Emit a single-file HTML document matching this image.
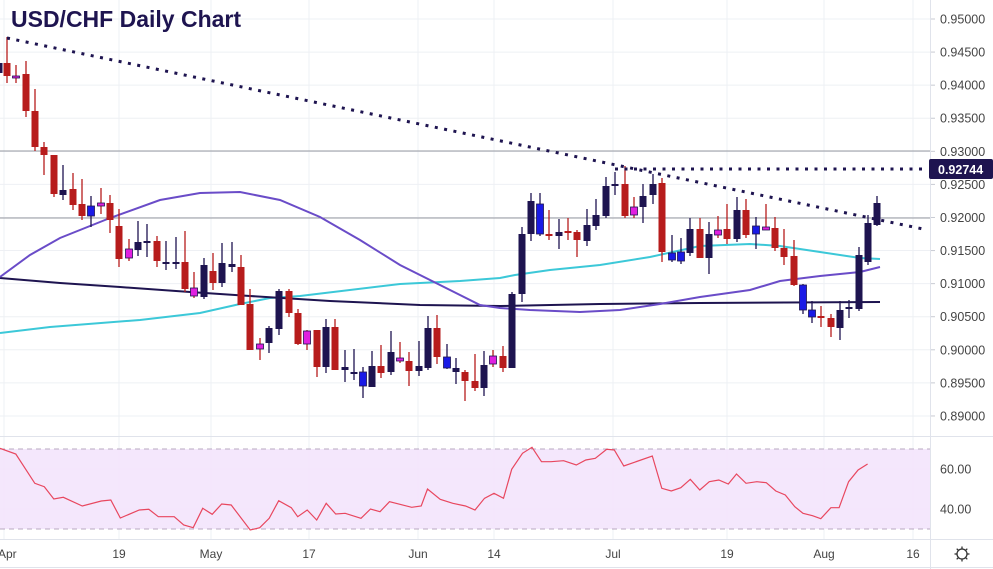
<!DOCTYPE html>
<html><head><meta charset="utf-8"><style>
html,body{margin:0;padding:0;background:#fff;}
svg{display:block;font-family:"Liberation Sans",sans-serif;}
</style></head><body>
<svg id="s" width="993" height="569" xmlns="http://www.w3.org/2000/svg"></svg>
<script>
const s=document.getElementById('s');
let h='';
const Y=p=>19+(0.95-p)/0.005*33.08;
for(let i=0;i<=12;i++){const p=0.95-i*0.005;const y=Y(p);h+=`<line x1="0" y1="${y}" x2="930" y2="${y}" stroke="#eef0f4"/>`;}
const xs=[[4,'Apr'],[119,'19'],[211,'May'],[309,'17'],[418,'Jun'],[494,'14'],[613,'Jul'],[727,'19'],[824,'Aug'],[913,'16']];
xs.forEach(a=>{h+=`<line x1="${a[0]}" y1="0" x2="${a[0]}" y2="539" stroke="#eef0f4"/>`;});
h+=`<line x1="0" y1="469" x2="930" y2="469" stroke="#eef0f4"/><line x1="0" y1="509" x2="930" y2="509" stroke="#eef0f4"/>`;
h+=`<rect x="0" y="449" width="930" height="80" fill="#f3e4fc" opacity="0.9"/>`;
h+=`<line x1="0" y1="449" x2="930" y2="449" stroke="#b8a8c0" stroke-dasharray="5,4"/><line x1="0" y1="529" x2="930" y2="529" stroke="#b8a8c0" stroke-dasharray="5,4"/>`;
h+=`<line x1="0" y1="436.5" x2="993" y2="436.5" stroke="#e0e3eb"/><line x1="0" y1="539.5" x2="993" y2="539.5" stroke="#e0e3eb"/><line x1="0" y1="567.5" x2="993" y2="567.5" stroke="#e0e3eb"/>`;
h+=`<line x1="930.5" y1="0" x2="930.5" y2="569" stroke="#e0e3eb"/>`;
h+=`<line x1="0" y1="151" x2="930" y2="151" stroke="#9598a1"/><line x1="0" y1="218" x2="930" y2="218" stroke="#9598a1"/>`;
const pl=(pts,c,w)=>`<polyline fill="none" stroke="${c}" stroke-width="${w}" points="${pts}"/>`;
h+=pl("0,333 50,327 140,320 200,313 240,304 270,298 300,296 400,284 460,281 500,278 515,275 550,270 600,265 650,257 700,246 750,244 780,246 820,252 860,258 880,259","#3cc8d8",2);
h+=pl("0,278 60,283 120,287 190,292 250,296 330,301 420,305 500,306 600,304 700,303 880,302","#1e1450",2);
h+=pl("0,277 30,255 60,238 110,218 160,200 200,193 240,192 280,200 320,217 360,240 400,265 450,290 480,305 500,308 530,310 580,312 620,310 660,304 700,297 750,290 780,281 820,276 860,272 880,267","#6a4cc8",2);
const R='#b71c1c',N='#1e1450',B='#1a1ae6',M='#e020e0';
const c=[[-1,63,73,58,78,N],[7,63,76,37,83,R],[16,76,78,65,83,M],[26,74,111,61,117,R],[35,111,147,89,151,R],[44,147,155,142,175,R],[54,155,194,155,197,R],[63,190,195,165,200,N],[73,189,205,173,210,R],[82,204,216,179,220,R],[91,206,216,196,227,B],[101,203,206,188,214,M],[110,203,220,195,233,R],[119,226,259,209,267,R],[129,249,258,239,261,M],[138,242,250,221,256,N],[147,241,243,224,257,N],[157,241,261,236,267,R],[166,262,264,241,270,N],[176,262,264,237,269,N],[185,262,289,231,292,R],[194,288,296,272,298,M],[204,265,297,258,299,N],[213,271,283,253,290,R],[222,263,283,243,287,N],[232,264,267,242,272,N],[241,267,305,255,305,R],[250,304,350,289,350,R],[260,344,349,338,360,M],[269,328,343,326,353,N],[279,291,329,289,335,N],[289,291,313,289,317,R],[298,313,344,309,345,R],[307,331,344,330,350,M],[317,330,367,330,377,R],[326,327,367,319,373,N],[335,327,370,319,370,R],[345,367,370,350,382,N],[354,372,374,349,380,N],[363,372,386,367,398,B],[372,366,387,351,387,N],[381,366,373,345,378,R],[391,352,372,331,375,N],[400,358,361,342,363,M],[409,361,371,352,386,R],[419,366,371,341,376,N],[428,328,368,316,370,N],[437,328,357,315,364,R],[447,357,368,344,369,B],[456,368,372,358,384,N],[465,372,381,370,401,R],[475,381,388,354,391,R],[484,365,388,351,396,N],[493,356,364,350,367,M],[503,356,368,346,372,R],[512,294,368,292,368,N],[522,234,294,227,302,N],[531,201,234,193,241,N],[540,204,234,193,236,B],[549,234,236,210,240,R],[559,232,236,219,249,N],[568,231,233,218,240,R],[577,232,240,230,257,R],[587,225,241,209,246,N],[596,215,226,199,230,N],[606,186,216,177,218,N],[615,184,186,172,195,N],[625,184,216,166,218,R],[634,207,215,197,218,M],[643,196,207,184,223,N],[653,184,195,174,204,N],[662,183,252,178,262,R],[672,253,260,235,262,B],[681,252,261,238,264,B],[690,229,253,218,256,N],[700,229,258,218,258,R],[709,234,258,222,274,N],[718,230,235,216,238,M],[727,229,239,204,244,R],[737,210,239,197,242,N],[746,210,235,199,238,R],[756,226,234,217,249,B],[766,227,230,204,230,M],[775,228,248,217,251,R],[784,248,257,229,265,R],[794,256,285,240,286,R],[803,285,310,284,314,B],[812,310,317,301,323,B],[821,316,318,306,327,R],[831,318,327,314,337,R],[840,310,328,301,340,N],[849,307,309,300,318,N],[859,255,309,247,311,N],[868,223,262,215,265,N],[877,203,225,196,226,N]];
c.forEach(d=>{const [x,a,b,hi,lo,col]=d;const wc=col==M?R:(col==B?N:col);
h+=`<line x1="${x}" y1="${hi}" x2="${x}" y2="${lo}" stroke="${wc}" stroke-width="1.3"/>`;
const bh=Math.max(b-a,2);h+=`<rect x="${x-3.5}" y="${a}" width="7" height="${bh}" fill="${col}" ${col==M||col==B?'stroke="'+N+'" stroke-width="0.8"':''}/>`;});
h+=`<line x1="7" y1="38" x2="923" y2="229" stroke="#1e1450" stroke-width="3" stroke-dasharray="3,6.5"/>`;
h+=`<line x1="615" y1="169" x2="925" y2="169" stroke="#1e1450" stroke-width="3" stroke-dasharray="3,6.5"/>`;
const r=[[0,55],[25,72],[55,160],[70,170],[85,207],[100,202],[130,228],[160,213],[175,210],[190,264],[220,240],[235,238],[250,260],[275,260],[290,285],[305,293],[320,235],[335,253],[350,222],[365,225],[395,300],[410,293],[425,265],[440,212],[460,233],[470,260],[485,240],[500,270],[515,220],[530,252],[545,250],[570,265],[585,237],[600,245],[615,215],[650,232],[665,228],[675,177],[695,208],[715,220],[735,228],[750,240],[765,205],[780,190],[795,205],[808,118],[825,70],[840,52],[855,95],[870,95],[890,92],[910,105],[925,90],[940,85],[958,58],[970,60],[985,108],[1030,78],[1045,175],[1060,183],[1075,173],[1090,148],[1105,180],[1120,155],[1135,150],[1150,162],[1163,132],[1178,160],[1195,155],[1210,158],[1225,183],[1240,195],[1255,230],[1268,250],[1283,257],[1296,266],[1312,233],[1325,233],[1340,155],[1355,120],[1370,102]];
h+=pl(r.map(p=>(p[0]/1.579).toFixed(1)+','+(430+p[1]/3).toFixed(1)).join(' '),"#e8475f",1.2);
for(let i=0;i<=12;i++){const p=0.95-i*0.005;const y=Y(p);h+=`<line x1="931" y1="${y}" x2="935" y2="${y}" stroke="#c8cbd3"/><text x="940" y="${y+4.5}" font-size="12.5" fill="#444">${p.toFixed(5)}</text>`;}
h+=`<rect x="929" y="159" width="64" height="20" rx="2" fill="#1e1450"/><text x="938" y="174" font-size="12.5" font-weight="bold" fill="#fff">0.92744</text>`;
h+=`<text x="940" y="473.5" font-size="12.5" fill="#444">60.00</text><text x="940" y="513.5" font-size="12.5" fill="#444">40.00</text>`;
xs.forEach((a,i)=>{h+= i==0?`<text x="-2" y="558" font-size="12" fill="#444">Apr</text>`:`<text x="${a[0]}" y="558" font-size="12" fill="#444" text-anchor="middle">${a[1]}</text>`;});
h+=`<circle cx="962" cy="554" r="5" fill="none" stroke="#333" stroke-width="1.3"/>`;
for(let k=0;k<8;k++){const a=k*Math.PI/4;h+=`<line x1="${962+5*Math.cos(a)}" y1="${554+5*Math.sin(a)}" x2="${962+7.5*Math.cos(a)}" y2="${554+7.5*Math.sin(a)}" stroke="#333" stroke-width="1.3"/>`;}
h+=`<text x="11" y="27" font-size="23" font-weight="bold" fill="#1e1450">USD/CHF Daily Chart</text>`;
s.innerHTML=h;
</script>
</body></html>
